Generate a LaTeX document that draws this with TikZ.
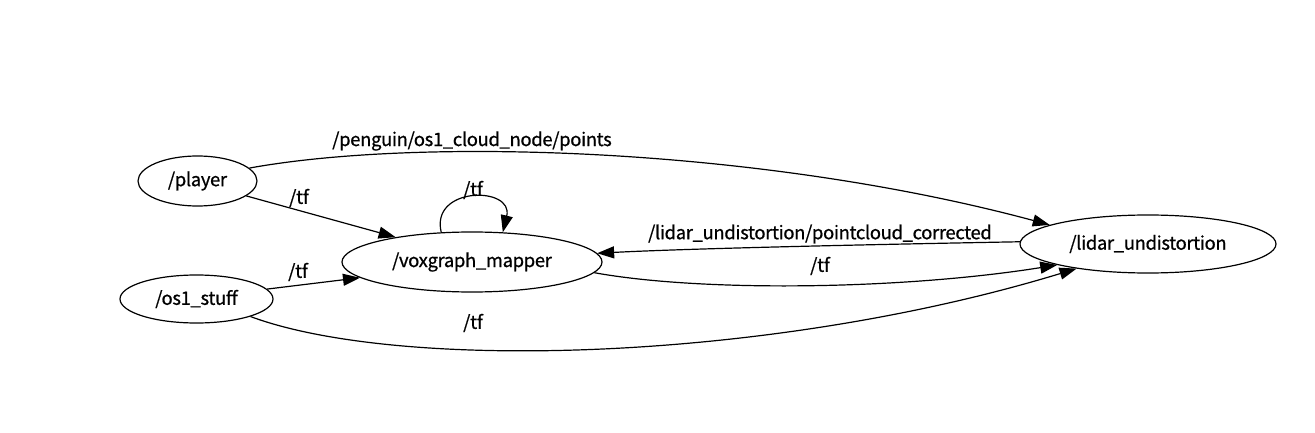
\documentclass[tikz,border=0pt]{standalone}
\usepackage{fontspec}
\setmainfont{Noto Sans CJK SC}[FakeBold=0.7,LetterSpace=-2]
\usetikzlibrary{arrows.meta,shapes.geometric}
\begin{document}
\begin{tikzpicture}[x=1pt,y=-1pt,
  nd/.style={draw,ellipse,line width=1.2pt,inner sep=0pt,font=\fontsize{18.5}{19}\selectfont},
  ed/.style={line width=1.2pt,-{Triangle[length=17pt,width=12pt]}},
  lb/.style={font=\fontsize{18.5}{19}\selectfont,inner sep=0pt}]
\useasboundingbox (0,0) rectangle (1315,433);
\node[nd,minimum width=119pt,minimum height=50pt] (player) at (197.5,181) {/player};
\node[nd,minimum width=153pt,minimum height=48pt] (os1) at (196.5,299) {/os1\_stuff};
\node[nd,minimum width=260pt,minimum height=60pt] (vox) at (472,262) {/voxgraph\_mapper};
\node[nd,minimum width=256pt,minimum height=58pt] (lid) at (1148,244) {/lidar\_undistortion};
% edges
\draw[ed] (player.14) .. controls (420,137) and (760,147) .. (lid.169);
\node[lb] (l1) at (472,141) {/penguin/os1\_cloud\_node/points};
\draw[ed] (player.-17) -- (vox.162);
\node[lb] (l2) at (299,198) {/tf};
\draw[ed] (vox.136) .. controls (430,186) and (514,186) .. (vox.44);
\node[lb] (l3) at (473,190) {/tf};
\draw[ed] (lid.179) .. controls (900,244) and (700,248) .. (vox.4);
\node[lb] (l4) at (820,234) {/lidar\_undistortion/pointcloud\_corrected};
\draw[ed] (vox.-5) .. controls (700,292) and (900,290) .. (lid.-167);
\node[lb] (l5) at (820,266) {/tf};
\draw[ed] (os1.8) -- (vox.-172);
\node[lb] (l6) at (298,272) {/tf};
\draw[ed] (os1.-18) .. controls (400,372) and (770,362) .. (lid.-161);
\node[lb] (l7) at (473,323) {/tf};
\end{tikzpicture}
\end{document}
